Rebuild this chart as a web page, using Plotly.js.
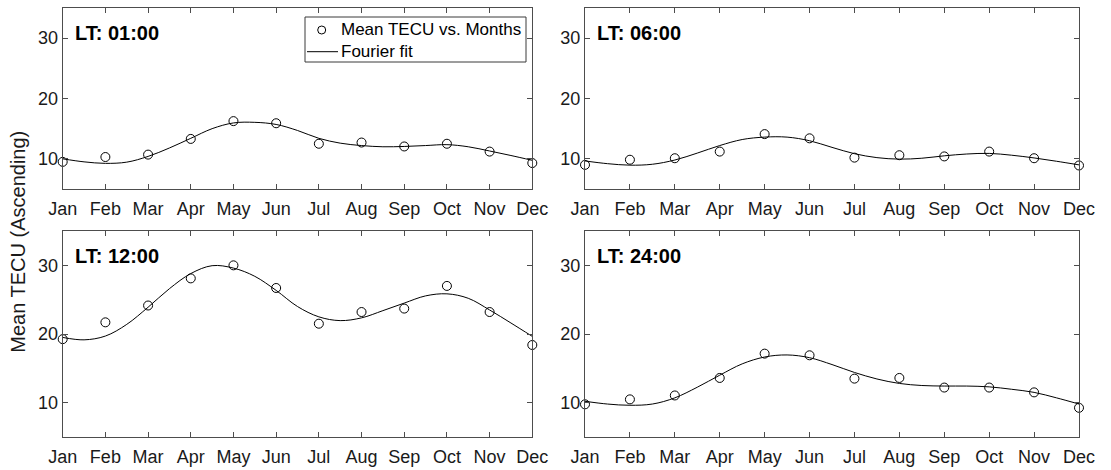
<!DOCTYPE html>
<html>
<head>
<meta charset="utf-8">
<script src="https://cdn.plot.ly/plotly-3.0.1.min.js"></script>
<style>
  html, body { margin: 0; padding: 0; background: #ffffff; }
  #chart { width: 1111px; height: 470px; }
</style>
</head>
<body>
<div id="chart"></div>
<script>
// Month axis
const months = ['Jan', 'Feb', 'Mar', 'Apr', 'May', 'Jun', 'Jul', 'Aug', 'Sep', 'Oct', 'Nov', 'Dec'];
const monthIdx = [1, 2, 3, 4, 5, 6, 7, 8, 9, 10, 11, 12];

// Positions (in months) at which the Fourier fit curves are sampled
const fitX = [1, 1.5, 2, 2.5, 3, 3.5, 4, 4.5, 5, 5.5, 6, 6.5, 7, 7.5, 8, 8.5, 9, 9.5, 10, 10.5, 11, 11.5, 12];

// Monthly mean TECU (ascending pass) per local time
const tecuLT01 = [9.5, 10.3, 10.7, 13.3, 16.25, 15.9, 12.5, 12.7, 12.05, 12.5, 11.2, 9.3];
const tecuLT06 = [9.0, 9.85, 10.1, 11.2, 14.1, 13.4, 10.2, 10.6, 10.4, 11.2, 10.1, 8.9];
const tecuLT12 = [19.25, 21.7, 24.15, 28.1, 30.0, 26.7, 21.5, 23.2, 23.7, 27.0, 23.2, 18.4];
const tecuLT24 = [9.76, 10.48, 11.05, 13.6, 17.14, 16.9, 13.5, 13.6, 12.2, 12.2, 11.5, 9.25];

// Fourier fit values at fitX
const fitLT01 = [10.0, 9.5, 9.25, 9.45, 10.4, 11.8, 13.4, 15.0, 15.95, 16.05, 15.7, 14.7, 13.4, 12.6, 12.2, 12.0, 12.05, 12.2, 12.35, 12.0, 11.3, 10.55, 9.75];
const fitLT06 = [9.65, 9.2, 8.95, 9.1, 9.8, 10.95, 12.2, 13.2, 13.6, 13.6, 13.0, 11.9, 10.85, 10.2, 9.95, 10.1, 10.5, 10.8, 10.9, 10.6, 10.15, 9.6, 9.0];
const fitLT12 = [19.5, 19.15, 19.7, 21.4, 23.9, 26.6, 28.8, 29.95, 29.6, 28.4, 26.35, 24.0, 22.5, 21.95, 22.35, 23.4, 24.5, 25.55, 25.85, 25.2, 23.5, 21.6, 19.65];
const fitLT24 = [10.2, 9.8, 9.62, 9.8, 10.7, 12.25, 14.0, 15.65, 16.65, 16.95, 16.55, 15.55, 14.4, 13.45, 12.8, 12.5, 12.42, 12.42, 12.3, 11.95, 11.5, 10.7, 9.8];

const panelTitles = ['LT: 01:00', 'LT: 06:00', 'LT: 12:00', 'LT: 24:00'];
const seriesName = 'Mean TECU vs. Months';
const fitName = 'Fourier fit';
const yLabel = 'Mean TECU (Ascending)';
const yTicks = [10, 20, 30];

const FONT = 'Liberation Sans, Arial, Helvetica, sans-serif';
const panels = [
  { tecu: tecuLT01, fit: fitLT01, xa: 'x',  ya: 'y'  },
  { tecu: tecuLT06, fit: fitLT06, xa: 'x2', ya: 'y2' },
  { tecu: tecuLT12, fit: fitLT12, xa: 'x3', ya: 'y3' },
  { tecu: tecuLT24, fit: fitLT24, xa: 'x4', ya: 'y4' }
];

const traces = [];
panels.forEach((p) => {
  traces.push({
    type: 'scatter', mode: 'markers', name: seriesName,
    x: monthIdx, y: p.tecu, xaxis: p.xa, yaxis: p.ya,
    marker: { symbol: 'circle-open', size: 9, color: '#000000', line: { width: 1, color: '#000000' } },
    cliponaxis: false, showlegend: false, hoverinfo: 'skip'
  });
  traces.push({
    type: 'scatter', mode: 'lines', name: fitName,
    x: fitX, y: p.fit, xaxis: p.xa, yaxis: p.ya,
    line: { color: '#000000', width: 1, shape: 'spline', smoothing: 1 },
    showlegend: false, hoverinfo: 'skip'
  });
});

function xAxis(domain, anchor) {
  return {
    domain: domain, anchor: anchor, range: [1, 12],
    tickmode: 'array', tickvals: monthIdx, ticktext: months,
    ticks: 'inside', ticklen: 5, tickwidth: 1, tickcolor: '#4d4d4d',
    showline: true, linecolor: '#4d4d4d', linewidth: 1, mirror: 'ticks',
    showgrid: false, zeroline: false, fixedrange: true,
    ticklabelstandoff: 3,
    tickfont: { family: FONT, size: 18, color: '#1a1a1a' }
  };
}
function yAxis(domain, anchor) {
  return {
    domain: domain, anchor: anchor, range: [5, 35],
    tickmode: 'array', tickvals: yTicks,
    ticks: 'inside', ticklen: 5, tickwidth: 1, tickcolor: '#4d4d4d',
    showline: true, linecolor: '#4d4d4d', linewidth: 1, mirror: 'ticks',
    showgrid: false, zeroline: false, fixedrange: true,
    tickfont: { family: FONT, size: 18, color: '#1a1a1a' }
  };
}

const W = 1111, H = 470;
const px = (v) => v / W;          // horizontal pixel -> paper
const py = (v) => 1 - v / H;      // vertical pixel (from top) -> paper
const colL = [px(62.7), px(532.3)];
const colR = [px(585), px(1079)];
const rowT = [py(189), py(8)];
const rowB = [py(437), py(231)];

const annotations = panels.map((p, i) => ({
  xref: p.xa + ' domain', yref: p.ya + ' domain', x: 0, y: 1,
  xshift: 10, yshift: -25, xanchor: 'left', yanchor: 'middle',
  text: '<b>' + panelTitles[i] + '</b>', showarrow: false,
  font: { family: FONT, size: 20, color: '#000000' }
}));
annotations.push({
  xref: 'paper', yref: 'paper', x: px(18), y: py(241.7),
  xanchor: 'center', yanchor: 'middle', textangle: -90,
  text: yLabel, showarrow: false,
  font: { family: FONT, size: 20, color: '#1a1a1a' }
});

// Legend box in the first panel: open-circle key and line key
const legendBox = { left: 305, right: 526, top: 17, bottom: 62, row1: 30, row2: 51.7, textX: 339.5 };
const shapes = [
  { type: 'rect', xref: 'paper', yref: 'paper', layer: 'above',
    x0: px(legendBox.left), x1: px(legendBox.right), y0: py(legendBox.bottom), y1: py(legendBox.top),
    line: { color: '#3a3a3a', width: 1 }, fillcolor: '#ffffff' },
  { type: 'circle', xref: 'paper', yref: 'paper', layer: 'above',
    x0: px(321.7 - 4), x1: px(321.7 + 4), y0: py(legendBox.row1 + 4), y1: py(legendBox.row1 - 4),
    line: { color: '#000000', width: 1 } },
  { type: 'line', xref: 'paper', yref: 'paper', layer: 'above',
    x0: px(307), x1: px(338), y0: py(legendBox.row2), y1: py(legendBox.row2),
    line: { color: '#000000', width: 1 } }
];
annotations.push({
  xref: 'paper', yref: 'paper', x: px(legendBox.textX), y: py(legendBox.row1),
  xanchor: 'left', yanchor: 'middle', text: seriesName, showarrow: false, borderpad: 0,
  font: { family: FONT, size: 17, color: '#000000' }
});
annotations.push({
  xref: 'paper', yref: 'paper', x: px(legendBox.textX), y: py(legendBox.row2),
  xanchor: 'left', yanchor: 'middle', text: fitName, showarrow: false, borderpad: 0,
  font: { family: FONT, size: 17, color: '#000000' }
});

const layout = {
  width: W, height: H,
  margin: { l: 0, r: 0, t: 0, b: 0 },
  paper_bgcolor: '#ffffff', plot_bgcolor: '#ffffff',
  font: { family: FONT, color: '#1a1a1a' },
  xaxis: xAxis(colL, 'y'),
  yaxis: yAxis(rowT, 'x'),
  xaxis2: xAxis(colR, 'y2'),
  yaxis2: yAxis(rowT, 'x2'),
  xaxis3: xAxis(colL, 'y3'),
  yaxis3: yAxis(rowB, 'x3'),
  xaxis4: xAxis(colR, 'y4'),
  yaxis4: yAxis(rowB, 'x4'),
  showlegend: false,
  shapes: shapes,
  annotations: annotations
};

Plotly.newPlot('chart', traces, layout, { displayModeBar: false, staticPlot: true });
</script>
</body>
</html>
